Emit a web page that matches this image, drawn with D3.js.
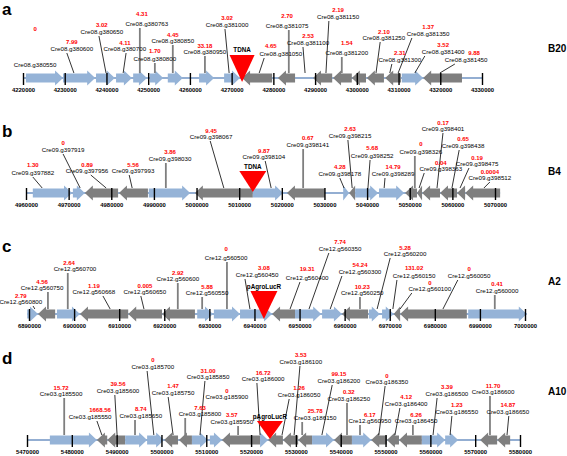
<!DOCTYPE html>
<html><head><meta charset="utf-8">
<script src="https://cdn.jsdelivr.net/npm/d3@7/dist/d3.min.js"></script>
<style>html,body{margin:0;padding:0;background:#fff}svg{display:block}text{font-family:"Liberation Sans",Arial,sans-serif}</style>
</head><body>
<svg id="chart" width="567" height="456"></svg>
<script>
// ---------- data ----------
const panelLetters = ["a","b","c","d"];
const strainNames = ["B20","B4","A2","A10"];
const insertNames = ["TDNA","TDNA","pAgroLucR","pAgroLucR"];
const insertPositions = [4272500, 5013200, 6942100, 5524200];
const domains = [[4220000,4330000],[4960000,5070000],[6890000,7000000],[5470000,5580000]];

// genes: [start, end, strand]
const genesA = [
 [4220700,4229600,1],[4229600,4237300,1],[4237500,4242000,1],[4242300,4246100,1],[4246400,4249700,1],
 [4250400,4253600,1],[4254700,4258300,1],[4262200,4265800,1],[4268200,4272000,1],[4272500,4279700,-1],
 [4281100,4285200,-1],[4289500,4294100,-1],[4294300,4298800,-1],[4298800,4302200,-1],[4302400,4306500,-1],
 [4306800,4310600,-1],[4310800,4315900,1],[4315900,4325200,-1]];
const genesB = [
 [4961600,4970800,1],[4971000,4973800,1],[4973800,4981600,-1],[4981800,4988600,-1],[4988800,4998500,1],
 [4999600,5013200,-1],[5013200,5020300,1],[5021200,5030100,-1],[5034400,5035800,1],[5035800,5037200,-1],
 [5037200,5042600,1],[5042800,5048700,1],[5048900,5051700,-1],[5051700,5052900,-1],[5052900,5057100,-1],
 [5057100,5061100,-1],[5061100,5063000,-1],[5063000,5071200,-1]];
const genesC = [
 [6889600,6892000,1],[6892000,6895800,-1],[6896200,6901300,1],[6901300,6912000,-1],[6912000,6919500,-1],
 [6919500,6926800,-1],[6927300,6930800,1],[6931000,6936800,1],[6936800,6943900,1],[6943900,6949000,-1],
 [6949000,6954800,1],[6955000,6959400,1],[6959400,6965200,-1],[6965400,6967800,1],[6968300,6970900,1],
 [6970900,6972300,-1],[6972300,6987100,-1],[6987400,7000400,1]];
const genesD = [
 [5475100,5485600,1],[5485600,5487900,-1],[5487900,5491900,-1],[5491900,5496800,1],[5496800,5500600,1],
 [5500600,5503700,-1],[5503900,5506800,-1],[5506800,5510400,1],[5510800,5513500,1],[5513500,5522000,-1],
 [5522000,5523800,1],[5523800,5527100,-1],[5527100,5530500,-1],[5530500,5533600,-1],[5533600,5538500,1],
 [5538500,5542500,-1],[5542500,5546800,1],[5546800,5550300,-1],[5550300,5553000,-1],[5553000,5558100,-1],
 [5558100,5563300,1],[5563300,5566200,1],[5571100,5574900,-1],[5574900,5577800,-1]];

// labels: [gene id, expression value, genomic anchor of callout]
const labelsA = [
 ["Cre08.g380550","0",null],["Cre08.g380600","7.99",4232200],["Cre08.g380650","3.02",4239900],
 ["Cre08.g380700","4.11",4244000],["Cre08.g380763","4.31",4248000],["Cre08.g380800","1.70",4251600],
 ["Cre08.g380850","4.45",4255900],["Cre08.g380950","33.18",4263600],["Cre08.g381000","3.02",4269400],
 ["Cre08.g381050","4.65",4276600],["Cre08.g381075","2.70",4283700],["Cre08.g381100","2.53",4287600],
 ["Cre08.g381150","2.19",4292600],["Cre08.g381200","1.54",4296400],["Cre08.g381250","2.10",4304600],
 ["Cre08.g381300","2.31",4307900],["Cre08.g381350","1.37",4309900],["Cre08.g381400","3.52",4313900],
 ["Cre08.g381450","9.88",4319900]];
const labelsB = [
 ["Cre09.g397882","1.30",4963800],["Cre09.g397919","0",4972700],["Cre09.g397956","0.89",4978800],
 ["Cre09.g397993","5.56",4984900],["Cre09.g398030","3.86",4992800],["Cre09.g398067","9.45",5006400],
 ["Cre09.g398104","9.87",5017500],["Cre09.g398141","0.67",5025000],["Cre09.g398178","4.28",5034600],
 ["Cre09.g398215","2.63",5036500],["Cre09.g398252","5.68",5040200],["Cre09.g398289","14.79",5044000],
 ["Cre09.g398326","0",5051200],["Cre09.g398363","0.04",5052200],["Cre09.g398401","0.17",5056400],
 ["Cre09.g398438","0.65",5059900],["Cre09.g398475","0.19",5061800],["Cre09.g398512","0.0004",5067400]];
const labelsC = [
 ["Cre12.g560800","2.79",6891300],["Cre12.g560750","4.56",6894200],["Cre12.g560700","2.64",6898600],
 ["Cre12.g560668","1.19",6908000],["Cre12.g560650","0.005",6915500],["Cre12.g560600","2.92",6923000],
 ["Cre12.g560550","5.88",6928400],["Cre12.g560500","0",6933900],["Cre12.g560450","3.08",6939000],
 ["Cre12.g560400","19.31",6947900],["Cre12.g560350","7.74",6952100],["Cre12.g560300","54.24",6956800],
 ["Cre12.g560250","10.23",6963400],["Cre12.g560200","5.28",6967200],["Cre12.g560150","131.02",6970700],
 ["Cre12.g560100","0",6972300],["Cre12.g560050","0",6981800],["Cre12.g560000","0.41",6993300]];
const labelsD = [
 ["Cre03.g185500","15.72",5478300],["Cre03.g185550","1668.56",5486700],["Cre03.g185600","39.56",5490100],
 ["Cre03.g185650","8.74",5494100],["Cre03.g185700","0",5498300],["Cre03.g185750","1.47",5502600],
 ["Cre03.g185800","7.63",5505300],["Cre03.g185850","31.00",5508600],["Cre03.g185900","0",null],
 ["Cre03.g185950","3.57",5517100],["Cre03.g186000","16.72",5522000],["Cre03.g186050","1.26",5526900],
 ["Cre03.g186100","3.53",5529600],["Cre03.g186150","25.78",5531400],["Cre03.g186200","99.15",5535800],
 ["Cre03.g186250","0.32",5541400],["Cre12.g560950","6.17",5544300],["Cre03.g186350","0",5548500],
 ["Cre03.g186400","4.12",5552100],["Cre03.g186450","6.26",5556100],["Cre03.g186500","3.39",5560600],
 ["Cre03.g186550","1.23",5564400],["Cre03.g186600","11.70",5573300],["Cre03.g186650","14.87",5577100]];

// label placement: [label centre (bp), callout top (bp), name level px, value level px, optional value centre (bp)]
const layoutA = [
 [4222900,null,13,49],[4231700,4230500,29,36],[4238900,4238200,46,53],[4244400,4244700,29,35],
 [4249700,4248000,54,64,4248500],[4251600,4251600,19,27],[4255900,4255900,37,43],[4263600,4263600,26,32],
 [4268900,4268400,53,60],[4281800,4277800,24,32,4279400],[4283300,4283700,52,62],[4288300,4287100,35,42],
 [4295500,4293300,61,68],[4297600,4296400,25,35],[4306500,4305600,40,46],[4310300,4308400,18,25],
 [4317100,4313200,44,51],[4320700,4316300,26,33],[4326200,4323500,18,25,4328100]];
const layoutB = [
 [4961600,4961600,20,28],[4968700,4968700,43,50],[4974300,4975200,22,28],[4985100,4984200,22,28],
 [4993800,4992800,34,41],[5003400,5003200,56,62],[5015800,5016100,36,42],[5026100,5025000,48,55],
 [5033600,5033600,19,26],[5036000,5035500,57,64],[5041200,5040700,37,45],[5046100,5044200,19,26],
 [5052600,5051200,41,49],[5057300,5053400,24,30],[5057800,5057800,64,70],[5062500,5061600,47,54],
 [5065800,5063900,29,35],[5068800,5068800,15,21]];
const layoutC = [
 [6888200,6890900,12,18],[6892900,6894200,26,32],[6900200,6898600,45,51,6898900],[6904400,6906400,22,28],
 [6915700,6914800,22,28],[6923000,6923000,35,41],[6929500,6928400,21,27],[6933700,6933900,56,65],
 [6940600,6937900,39,46,6942100],[6951700,6950100,36,45],[6959000,6956500,65,72],[6963400,6959400,42,49],
 [6963900,6963400,21,27],[6973400,6970100,60,66],[6975400,6971600,38,46],[6978900,6974900,25,31],
 [6987600,6985100,38,45],[6993800,6993300,23,30]];
const layoutD = [
 [5477600,5478300,46,52],[5484100,5485600,23,30,5486300],[5490300,5489600,49,56],[5495400,5494100,24,31],
 [5498100,5496800,73,80],[5502600,5501500,47,54],[5508600,5505300,26,32],[5510400,5509700,63,69],
 [5514600,null,43,49],[5515700,5517100,18,25],[5522700,5521300,61,67],[5530700,5528500,45,52],
 [5531100,5530900,78,85],[5534300,5531400,22,29],[5539600,5538100,59,66],[5541800,5541400,41,48],
 [5546500,5544300,19,25],[5550300,5549900,58,64],[5554600,5553200,36,43],[5556800,5556100,19,25],
 [5563700,5561500,46,53],[5565900,5564800,28,35],[5574000,5573300,48,54],[5577300,5577500,28,35]];

// ---------- drawing ----------
const genesAll = [genesA, genesB, genesC, genesD];
const labelsAll = [labelsA, labelsB, labelsC, labelsD];
const layoutAll = [layoutA, layoutB, layoutC, layoutD];
const ranges = [[23,482],[26,495],[29,525],[27,520]];
const axisYs = [78,193,314,440];
const letterYs = [15,137,252,364];
const strainYs = [52,175,285,395];
const triGeom = [[-23,4,12.5,-28],[-22,-1,13.5,-26],[-23,5,13.5,-27],[-19,-1,13,-23]];

const BLUE = "#95b3d7", GRAY = "#7f7f7f", AXIS = "#6f93c3";
const svg = d3.select("#chart");
svg.append("rect").attr("width",567).attr("height",456).attr("fill","#fff");

function arrowPath(x1, x2, y, strand) {
  const bh = 4.5, hh = 7.5, hl = Math.min(8, x2 - x1);
  if (strand > 0) {
    return `M${x1},${y-bh}L${x2-hl},${y-bh}L${x2-hl},${y-hh}L${x2},${y}L${x2-hl},${y+hh}L${x2-hl},${y+bh}L${x1},${y+bh}Z`;
  }
  return `M${x2},${y-bh}L${x1+hl},${y-bh}L${x1+hl},${y-hh}L${x1},${y}L${x1+hl},${y+hh}L${x1+hl},${y+bh}L${x2},${y+bh}Z`;
}

panelLetters.forEach((letter, i) => {
  const x = d3.scaleLinear().domain(domains[i]).range(ranges[i]);
  const y = axisYs[i];
  const genes = genesAll[i];
  const g = svg.append("g");

  // baseline
  const lo = Math.min(domains[i][0], d3.min(genes, d => d[0]));
  const hi = Math.max(domains[i][1], d3.max(genes, d => d[1]));
  g.append("line").attr("x1", x(lo)).attr("x2", x(hi)).attr("y1", y).attr("y2", y)
    .attr("stroke", AXIS).attr("stroke-width", 1.3);

  // genes
  g.selectAll("path.gene").data(genes).join("path").attr("class","gene")
    .attr("d", d => arrowPath(x(d[0]), x(d[1]), y, d[2]))
    .attr("fill", d => d[2] > 0 ? BLUE : GRAY);

  // ticks via d3 axis
  const ticks = d3.range(domains[i][0], domains[i][1] + 1, 10000);
  const axis = d3.axisBottom(x).tickValues(ticks).tickFormat(d3.format("d")).tickSize(7).tickPadding(3);
  const ag = g.append("g").attr("transform", `translate(0,${y})`).call(axis);
  ag.select(".domain").remove();
  ag.selectAll(".tick line").attr("y1", -5).attr("stroke", "#000").attr("stroke-width", 1.4);
  ag.selectAll(".tick text").attr("font-size", 5.9).attr("font-weight", "bold")
    .attr("font-family", "Liberation Sans, Arial, sans-serif").attr("fill", "#000");

  // callouts
  const labels = labelsAll[i], layout = layoutAll[i];
  labels.forEach((lab, j) => {
    const anchor = lab[2];
    const [lx, topX, nl] = layout[j];
    if (anchor !== null) {
      const vertical = topX === anchor;
      g.append("line")
        .attr("x1", x(topX)).attr("y1", y - nl + 4)
        .attr("x2", x(anchor)).attr("y2", y - 5)
        .attr("stroke", vertical ? GRAY : "#000")
        .attr("stroke-width", vertical ? 1.8 : 0.8);
    }
  });

  // insertion triangle
  const [tTop, tTip, tHalf, tLab] = triGeom[i];
  const tx = x(insertPositions[i]);
  g.append("path").attr("d", `M${tx-tHalf},${y+tTop}L${tx+tHalf},${y+tTop}L${tx},${y+tTip}Z`).attr("fill", "#ff0000");
  g.append("text").attr("x", tx).attr("y", y + tLab).attr("dy", "0.35em").attr("text-anchor","middle")
    .attr("font-size", 6.3).attr("font-weight","bold").text(insertNames[i]);

  // label texts
  labels.forEach((lab, j) => {
    const [name, val] = lab;
    const [lx, , nl, vl, vx] = layout[j];
    g.append("text").attr("x", x(lx)).attr("y", y - nl).attr("dy","0.35em").attr("text-anchor","middle")
      .attr("font-size", 6.2).attr("fill","#000").text(name);
    g.append("text").attr("x", x(vx === undefined ? lx : vx)).attr("y", y - vl).attr("dy","0.35em").attr("text-anchor","middle")
      .attr("font-size", 6).attr("font-weight","bold").attr("fill","#ff0000").text(val);
  });

  // panel letter and strain
  svg.append("text").attr("x", 2).attr("y", letterYs[i]).attr("font-size", 17).attr("font-weight","bold").text(letter);
  svg.append("text").attr("x", 548).attr("y", strainYs[i]).attr("font-size", 10).attr("font-weight","bold").text(strainNames[i]);
});
</script>
</body></html>
